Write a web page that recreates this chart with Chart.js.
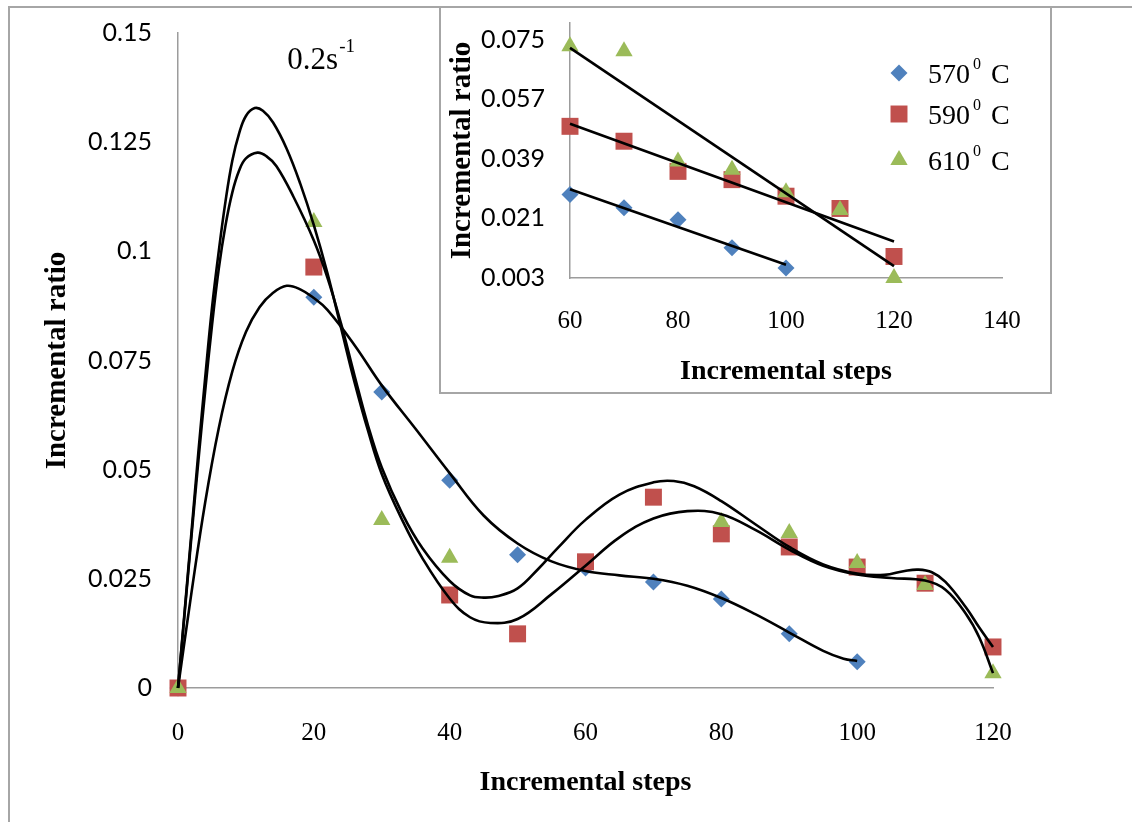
<!DOCTYPE html>
<html>
<head>
<meta charset="utf-8">
<title>Incremental ratio vs incremental steps</title>
<script src="https://cdn.jsdelivr.net/npm/chart.js@4.4.1/dist/chart.umd.min.js"></script>
<style>
  html, body { margin: 0; padding: 0; background: #fff; width: 1132px; height: 822px; overflow: hidden; }
  #frame { position: absolute; left: 8px; top: 6px; width: 1300px; height: 1000px; border: 2px solid #a6a6a6; box-sizing: border-box; }
  #main { position: absolute; left: 0; top: 0; }
  #insetBox { position: absolute; left: 439px; top: 6px; width: 613px; height: 388px; border: 2px solid #a6a6a6; box-sizing: border-box; background: #fff; }
  #inset { position: absolute; left: 0; top: 0; }
</style>
</head>
<body>
<div id="frame"></div>
<canvas id="main" width="1132" height="822"></canvas>
<div id="insetBox"><canvas id="inset" width="609" height="384"></canvas></div>
<script>
// ---- series meta ----
const seriesNames = ['570', '590', '610'];
const seriesColors = ['#4F81BD', '#C0504D', '#9BBB59'];
const seriesStyles = ['rectRot', 'rect', 'triangle'];
const markerRadius = [8.5, 12, 10];

// ---- main chart: measured points ----
const steps570 = [0, 20, 30, 40, 50, 60, 70, 80, 90, 100];
const ratio570 = [0, 0.0895, 0.0678, 0.0476, 0.0305, 0.0275, 0.0243, 0.0204, 0.0124, 0.006];
const steps590 = [0, 20, 40, 50, 60, 70, 80, 90, 100, 110, 120];
const ratio590 = [0, 0.0964, 0.0213, 0.0124, 0.0289, 0.0437, 0.0353, 0.0323, 0.0277, 0.024, 0.0094];
const steps610 = [0, 20, 30, 40, 80, 90, 100, 110, 120];
const ratio610 = [0, 0.1067, 0.0385, 0.0298, 0.038, 0.0355, 0.0286, 0.0236, 0.0034];

// ---- main chart: polynomial trend curves, sampled along each curve ----
const fitSteps570 = [0, 2, 4, 6, 8, 10, 12, 14, 16, 18, 20, 22, 26, 30, 35, 40, 45, 50, 55, 60, 65, 70, 75, 80, 85, 90, 95, 98, 100];
const fitRatio570 = [0, 0.022, 0.0425, 0.0595, 0.0725, 0.0815, 0.0872, 0.0905, 0.0921, 0.0913, 0.0893, 0.0866, 0.0785, 0.0693, 0.0593, 0.0492, 0.0395, 0.0331, 0.029, 0.0268, 0.0258, 0.025, 0.0234, 0.0206, 0.0169, 0.0127, 0.0085, 0.0067, 0.0062];
const fitSteps590 = [0, 1, 2, 3, 4, 5, 6, 7, 8, 9, 10, 11.7, 13, 14.5, 17, 20, 22, 24, 26, 28, 30, 33, 36, 40, 43, 45, 47, 50, 53, 56, 60, 65, 70, 73, 76, 80, 85, 90, 95, 100, 104, 107, 109, 111, 113, 116, 118, 120];
const fitRatio590 = [0, 0.0175, 0.035, 0.052, 0.068, 0.083, 0.096, 0.106, 0.1135, 0.1185, 0.1213, 0.1226, 0.1218, 0.1195, 0.1125, 0.1025, 0.094, 0.0835, 0.0715, 0.06, 0.0505, 0.04, 0.032, 0.0245, 0.0212, 0.0207, 0.021, 0.0228, 0.0272, 0.0322, 0.0385, 0.0443, 0.0471, 0.0474, 0.0462, 0.0428, 0.0375, 0.0323, 0.0283, 0.0262, 0.0259, 0.0268, 0.0271, 0.0265, 0.0243, 0.0185, 0.0138, 0.0094];
const fitSteps610 = [0, 1, 2, 3, 4, 5, 6, 7, 8, 9, 10, 11.3, 12.5, 14, 16, 18, 20, 22, 24, 26, 28, 30, 33, 36, 40, 43, 46, 50, 55, 60, 65, 70, 75, 80, 85, 90, 95, 100, 105, 110, 113, 116, 118, 120];
const fitRatio610 = [0, 0.018, 0.036, 0.054, 0.071, 0.087, 0.1, 0.1115, 0.1208, 0.127, 0.131, 0.1328, 0.1322, 0.1295, 0.1235, 0.1155, 0.106, 0.095, 0.0825, 0.07, 0.0588, 0.049, 0.0385, 0.0297, 0.0205, 0.0162, 0.0149, 0.0158, 0.0215, 0.028, 0.0345, 0.0388, 0.0405, 0.0398, 0.0362, 0.0317, 0.028, 0.026, 0.0252, 0.0246, 0.0225, 0.017, 0.0115, 0.0034];

// ---- main chart axes ----
const stepTicks = [0, 20, 40, 60, 80, 100, 120];
const stepLabels = ['0', '20', '40', '60', '80', '100', '120'];
const ratioTicks = [0, 0.025, 0.05, 0.075, 0.1, 0.125, 0.15];
const ratioLabels = ['0', '0.025', '0.05', '0.075', '0.1', '0.125', '0.15'];
const xTitle = 'Incremental steps';
const yTitle = 'Incremental ratio';
const rateText = '0.2s';
const rateExponent = '-1';

// ---- inset chart: measured points and linear trends ----
const insetSteps570 = [60, 70, 80, 90, 100];
const insetRatio570 = [0.0282, 0.0242, 0.0206, 0.0121, 0.006];
const insetSteps = [60, 70, 80, 90, 100, 110, 120];
const insetRatio590 = [0.0488, 0.0443, 0.0352, 0.0327, 0.0277, 0.024, 0.0095];
const insetRatio610 = [0.073, 0.0715, 0.0382, 0.0357, 0.0289, 0.0235, 0.003];
const insetFitSteps570 = [60, 100];
const insetFitRatio570 = [0.0298, 0.007];
const insetFitSteps = [60, 120];
const insetFitRatio590 = [0.0496, 0.014];
const insetFitRatio610 = [0.0725, 0.0066];
const insetStepTicks = [60, 80, 100, 120, 140];
const insetRatioTicks = [0.003, 0.021, 0.039, 0.057, 0.075];
const insetRatioLabels = ['0.003', '0.021', '0.039', '0.057', '0.075'];

// ---- shared styling ----
const axisGray = '#9c9c9c';
const serif = '"Liberation Serif", "Times New Roman", serif';
const sans = 'Lato, "Open Sans", sans-serif';

function pts(xs, ys) { return xs.map((x, i) => ({ x: x, y: ys[i] })); }

function markerSet(k, xs, ys, order) {
  return {
    label: seriesNames[k], data: pts(xs, ys), showLine: false,
    pointStyle: seriesStyles[k], pointRadius: markerRadius[k], pointHoverRadius: markerRadius[k],
    pointBackgroundColor: seriesColors[k], pointBorderColor: seriesColors[k], pointBorderWidth: 0,
    backgroundColor: seriesColors[k], borderColor: seriesColors[k], order: order, clip: false
  };
}
function fitSet(xs, ys, tension) {
  return {
    label: 'trend', data: pts(xs, ys), showLine: true, pointRadius: 0, pointHoverRadius: 0,
    borderColor: '#000', borderWidth: 2.6, fill: false, order: 0, clip: false,
    cubicInterpolationMode: 'default', tension: tension
  };
}

function fixedTicks(values) {
  return function (scale) { scale.ticks = values.map(v => ({ value: v })); };
}

// strain-rate annotation "0.2s^-1"
const rateAnnotation = {
  id: 'rateAnnotation',
  afterDraw(chart) {
    const ctx = chart.ctx;
    const x = chart.scales.x.getPixelForValue(16.1);
    const y = chart.scales.y.getPixelForValue(0.1418);
    ctx.save();
    ctx.fillStyle = '#000';
    ctx.textBaseline = 'alphabetic';
    ctx.textAlign = 'left';
    ctx.font = '31px ' + serif;
    ctx.fillText(rateText, x, y);
    const w = ctx.measureText(rateText).width;
    ctx.font = '19px ' + serif;
    ctx.fillText(rateExponent, x + w + 1, y - 17);
    ctx.restore();
  }
};

new Chart(document.getElementById('main'), {
  type: 'scatter',
  data: {
    datasets: [
      fitSet(fitSteps570, fitRatio570, 0.4),
      fitSet(fitSteps590, fitRatio590, 0.4),
      fitSet(fitSteps610, fitRatio610, 0.4),
      markerSet(2, steps610, ratio610, 1),
      markerSet(1, steps590, ratio590, 2),
      markerSet(0, steps570, ratio570, 3)
    ]
  },
  options: {
    responsive: false, animation: false, events: [],
    layout: { padding: { left: 0, top: 33, right: 139, bottom: 0 } },
    plugins: { legend: { display: false }, tooltip: { enabled: false }, title: { display: false } },
    scales: {
      x: {
        type: 'linear', min: 0, max: 120,
        afterBuildTicks: fixedTicks(stepTicks),
        afterFit(s) { s.height = 134; s.paddingLeft = 0; s.paddingRight = 0; },
        grid: { display: false, drawTicks: false },
        border: { display: true, color: axisGray, width: 1.5 },
        ticks: { autoSkip: false, maxRotation: 0, padding: 30, color: '#000',
                 font: { family: serif, size: 25, lineHeight: 1.2 },
                 callback: (v, i) => stepLabels[i] },
        title: { display: true, text: xTitle, color: '#000',
                 font: { family: serif, size: 28, weight: 'bold', lineHeight: 1.2 },
                 padding: { top: 0, bottom: 22 } }
      },
      y: {
        type: 'linear', min: 0, max: 0.15,
        afterBuildTicks: fixedTicks(ratioTicks),
        afterFit(s) { s.width = 178; s.paddingTop = 0; s.paddingBottom = 0; },
        grid: { display: false, drawTicks: false },
        border: { display: true, color: axisGray, width: 1.5 },
        ticks: { autoSkip: false, padding: 26, color: '#000',
                 font: { family: sans, size: 25, lineHeight: 1.2 },
                 callback: (v, i) => ratioLabels[i] },
        title: { display: true, text: yTitle, color: '#000',
                 font: { family: serif, size: 29, weight: 'bold', lineHeight: 1.2 },
                 padding: { top: 40, bottom: 0 } }
      }
    }
  },
  plugins: [rateAnnotation]
});

// legend drawn inside the inset, using each series' marker style
const insetLegend = {
  id: 'insetLegend',
  afterDraw(chart) {
    const ctx = chart.ctx;
    const rows = [65, 106, 152];
    const mx = 458, tx = 487;
    ctx.save();
    seriesNames.forEach((name, k) => {
      const y = rows[k];
      ctx.fillStyle = seriesColors[k];
      ctx.strokeStyle = seriesColors[k];
      ctx.lineWidth = 0;
      if (Chart.helpers && Chart.helpers.drawPoint) {
        Chart.helpers.drawPoint(ctx, { pointStyle: seriesStyles[k], radius: markerRadius[k], rotation: 0, borderWidth: 0 }, mx, y);
      }
      ctx.fillStyle = '#000';
      ctx.textBaseline = 'alphabetic';
      ctx.textAlign = 'left';
      ctx.font = '28px ' + serif;
      ctx.fillText(name, tx, y + 10);
      let x = tx + ctx.measureText(name).width + 3;
      ctx.font = '16px ' + serif;
      ctx.fillText('0', x, y - 4);
      x += ctx.measureText('0').width + 10;
      ctx.font = '28px ' + serif;
      ctx.fillText('C', x, y + 10);
    });
    ctx.restore();
  }
};

new Chart(document.getElementById('inset'), {
  type: 'scatter',
  data: {
    datasets: [
      fitSet(insetFitSteps570, insetFitRatio570, 0),
      fitSet(insetFitSteps, insetFitRatio590, 0),
      fitSet(insetFitSteps, insetFitRatio610, 0),
      markerSet(2, insetSteps, insetRatio610, 1),
      markerSet(1, insetSteps, insetRatio590, 2),
      markerSet(0, insetSteps570, insetRatio570, 3)
    ]
  },
  options: {
    responsive: false, animation: false, events: [],
    layout: { padding: { left: 0, top: 15, right: 48, bottom: 0 } },
    plugins: { legend: { display: false }, tooltip: { enabled: false }, title: { display: false } },
    scales: {
      x: {
        type: 'linear', min: 60, max: 140,
        afterBuildTicks: fixedTicks(insetStepTicks),
        afterFit(s) { s.height = 114; s.paddingLeft = 0; s.paddingRight = 0; },
        grid: { display: false, drawTicks: false },
        border: { display: true, color: axisGray, width: 1.5 },
        ticks: { autoSkip: false, maxRotation: 0, padding: 28, color: '#000',
                 font: { family: serif, size: 25, lineHeight: 1.2 } },
        title: { display: true, text: xTitle, color: '#000',
                 font: { family: serif, size: 28, weight: 'bold', lineHeight: 1.2 },
                 padding: { top: 0, bottom: 3 } }
      },
      y: {
        type: 'linear', min: 0.003, max: 0.08,
        afterBuildTicks: fixedTicks(insetRatioTicks),
        afterFit(s) { s.width = 129; s.paddingTop = 0; s.paddingBottom = 0; },
        grid: { display: false, drawTicks: false },
        border: { display: true, color: axisGray, width: 1.5 },
        ticks: { autoSkip: false, padding: 25, color: '#000',
                 font: { family: sans, size: 25, lineHeight: 1.2 },
                 callback: (v, i) => insetRatioLabels[i] },
        title: { display: true, text: yTitle, color: '#000',
                 font: { family: serif, size: 29, weight: 'bold', lineHeight: 1.2 },
                 padding: { top: 4, bottom: 0 } }
      }
    }
  },
  plugins: [insetLegend]
});
</script>
</body>
</html>
